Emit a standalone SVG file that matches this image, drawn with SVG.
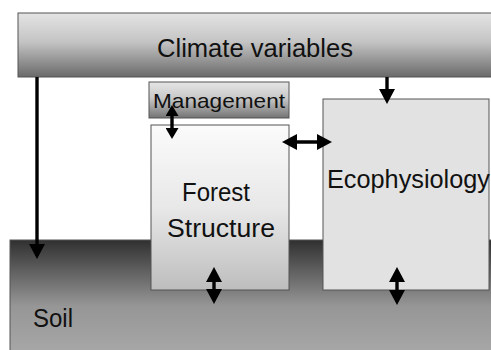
<svg xmlns="http://www.w3.org/2000/svg" width="491" height="350" viewBox="0 0 491 350">
  <defs>
    <linearGradient id="gClimate" x1="0" y1="0" x2="0" y2="1">
      <stop offset="0" stop-color="#e4e4e4"/>
      <stop offset="0.45" stop-color="#c4c4c4"/>
      <stop offset="1" stop-color="#6a6a6a"/>
    </linearGradient>
    <linearGradient id="gMgmt" x1="0" y1="0" x2="0" y2="1">
      <stop offset="0" stop-color="#e6e6e6"/>
      <stop offset="0.45" stop-color="#c8c8c8"/>
      <stop offset="1" stop-color="#737373"/>
    </linearGradient>
    <linearGradient id="gForest" x1="0" y1="0" x2="0" y2="1">
      <stop offset="0" stop-color="#fbfbfb"/>
      <stop offset="0.5" stop-color="#e8e8e8"/>
      <stop offset="1" stop-color="#bdbdbd"/>
    </linearGradient>
    <linearGradient id="gSoil" x1="0" y1="0" x2="0" y2="1">
      <stop offset="0" stop-color="#303030"/>
      <stop offset="0.55" stop-color="#969696"/>
      <stop offset="1" stop-color="#aaaaaa"/>
    </linearGradient>
    <marker id="ah" markerUnits="userSpaceOnUse" markerWidth="15" markerHeight="16" viewBox="0 0 15 16" refX="11" refY="8" orient="auto-start-reverse">
      <path d="M0,0 L15,8 L0,16 z" fill="#000"/>
    </marker>
    <marker id="ahs" markerUnits="userSpaceOnUse" markerWidth="11" markerHeight="13" viewBox="0 0 11 13" refX="8" refY="6.5" orient="auto-start-reverse">
      <path d="M0,0 L11,6.5 L0,13 z" fill="#000"/>
    </marker>
    <style>
      .box { stroke: #555; stroke-width: 1; }
      .lbl { font-family: "Liberation Sans", Arial, sans-serif; fill: #111; }
      .conn line { stroke: #000; stroke-width: 3.4; fill: none; }
    </style>
  </defs>

  <rect width="491" height="350" fill="#fff"/>

  <g id="soil">
    <rect class="box" x="10" y="240" width="490" height="120" fill="url(#gSoil)"/>
    <text class="lbl" x="33" y="327" font-size="25" textLength="40" lengthAdjust="spacingAndGlyphs">Soil</text>
  </g>

  <g id="climate">
    <rect class="box" x="18" y="13" width="480" height="64" fill="url(#gClimate)"/>
    <text class="lbl" x="157" y="57" font-size="25" textLength="196" lengthAdjust="spacingAndGlyphs">Climate variables</text>
  </g>

  <g id="management">
    <rect class="box" x="149" y="82" width="140" height="36" fill="url(#gMgmt)"/>
    <text class="lbl" x="153" y="108" font-size="21" textLength="132" lengthAdjust="spacingAndGlyphs">Management</text>
  </g>

  <g id="forest">
    <rect class="box" x="151" y="125" width="138" height="165" fill="url(#gForest)"/>
    <text class="lbl" x="182" y="201" font-size="25" textLength="68" lengthAdjust="spacingAndGlyphs">Forest</text>
    <text class="lbl" x="167" y="237" font-size="25" textLength="108" lengthAdjust="spacingAndGlyphs">Structure</text>
  </g>

  <g id="ecophysiology">
    <rect class="box" x="323" y="99" width="166" height="191" fill="#e2e2e2"/>
    <text class="lbl" x="327" y="188" font-size="25" textLength="163" lengthAdjust="spacingAndGlyphs">Ecophysiology</text>
  </g>

  <g id="connectors" class="conn">
    <line x1="37" y1="77" x2="37" y2="255" marker-end="url(#ah)"/>
    <line x1="387" y1="77" x2="387" y2="100" marker-end="url(#ah)"/>
    <line x1="172" y1="108" x2="172" y2="136" marker-start="url(#ahs)" marker-end="url(#ahs)"/>
    <line x1="286" y1="142" x2="328" y2="142" marker-start="url(#ah)" marker-end="url(#ah)"/>
    <line x1="214" y1="271" x2="214" y2="300" marker-start="url(#ah)" marker-end="url(#ah)"/>
    <line x1="397" y1="271" x2="397" y2="301" marker-start="url(#ah)" marker-end="url(#ah)"/>
  </g>
</svg>
